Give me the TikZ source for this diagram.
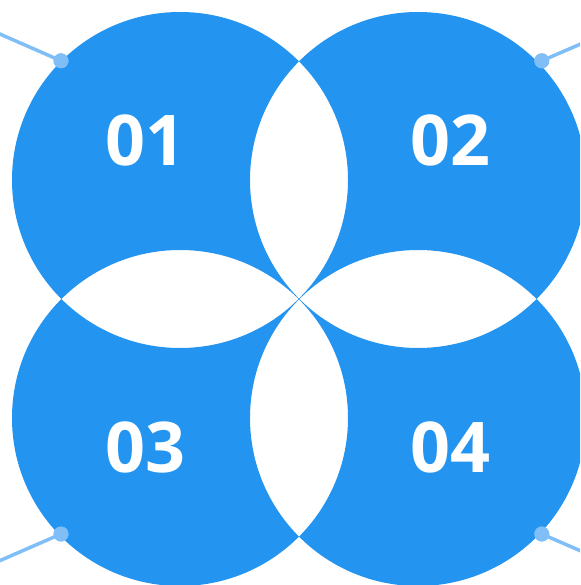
\documentclass[tikz,border=0pt]{standalone}
\usepackage{fontspec}
\setmainfont{Open Sans}
\definecolor{mainblue}{HTML}{2394F0}
\definecolor{lightblue}{HTML}{7FBEF6}
\begin{document}
\begin{tikzpicture}[x=1pt,y=-1pt,
  numlabel/.style={text=white,font=\fontsize{70}{70}\selectfont\bfseries,inner sep=0pt},
  dotnode/.style={circle,fill=lightblue,minimum size=15pt,inner sep=0pt},
  leader/.style={draw=lightblue,line width=3.5pt}]
\useasboundingbox (0,0) rectangle (580,585);
\clip (0,0) rectangle (580,585);
\fill[mainblue,even odd rule] (180,180) circle (168) (418,180) circle (168)
  (180,418) circle (168) (418,418) circle (168);
\coordinate (e1) at (-40,16.6);
\coordinate (e2) at (620,27);
\coordinate (e3) at (-40,578);
\coordinate (e4) at (620,568);
\node[dotnode] (d1) at (61,60.8) {};
\node[dotnode] (d2) at (541.8,60.8) {};
\node[dotnode] (d3) at (61,534) {};
\node[dotnode] (d4) at (541.8,534) {};
\draw[leader] (d1.center) -- (e1);
\draw[leader] (d2.center) -- (e2);
\draw[leader] (d3.center) -- (e3);
\draw[leader] (d4.center) -- (e4);
\node[dotnode] at (d1) {};
\node[dotnode] at (d2) {};
\node[dotnode] at (d3) {};
\node[dotnode] at (d4) {};
\node[numlabel] (t1) at (145,140) {01};
\node[numlabel] (t2) at (450,140) {02};
\node[numlabel] (t3) at (145,447) {03};
\node[numlabel] (t4) at (450,447) {04};
\end{tikzpicture}
\end{document}
